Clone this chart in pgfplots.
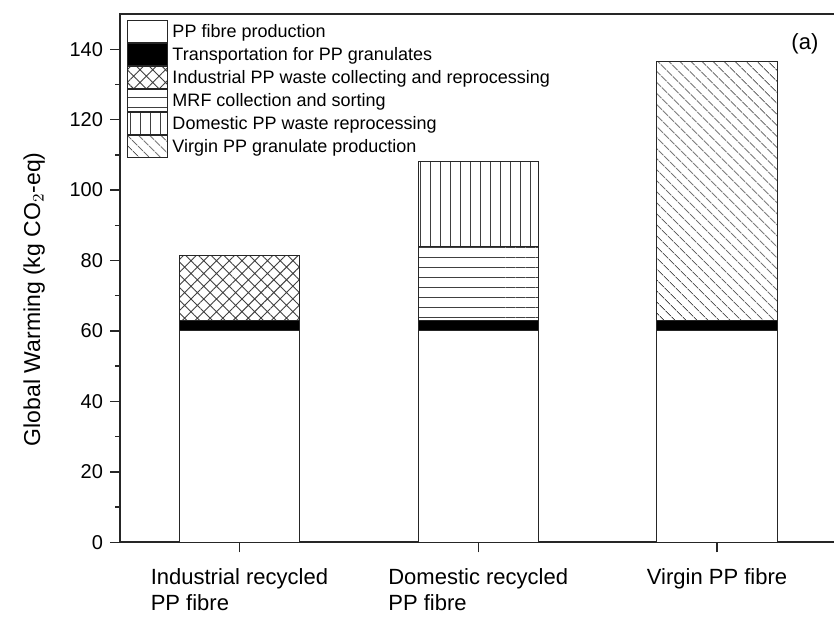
\documentclass[border=0pt]{standalone}
\usepackage{pgfplots}
\pgfplotsset{compat=1.18}
\usepackage{fontspec}
\setmainfont{Liberation Sans}
\usetikzlibrary{patterns.meta,calc}

\pgfplotsset{
  leg/.style={legend image code/.code={%
    \draw[##1,draw=black!85,line width=0.5pt] (0pt,-5.5pt) rectangle (20pt,5.5pt);}},
  barsty/.style={draw=black!85,line width=0.5pt,leg},
}

\begin{document}
\begin{tikzpicture}
\begin{axis}[
    scale only axis,
    width=358pt, height=264pt,
    ybar stacked,
    bar width=60pt,
    xmin=0.5, xmax=3.5,
    ymin=0, ymax=150,
    xtick={1,2,3},
    xticklabels={Industrial recycled\\PP fibre, Domestic recycled\\PP fibre, Virgin PP fibre},
    xticklabel style={align=left, font=\fontsize{11}{13.2}\selectfont, yshift=-4.5pt, anchor=north},
    ytick={0,20,...,140},
    minor y tick num=1,
    tick pos=left,
    tick align=outside,
    major tick length=5pt,
    minor tick length=2.5pt,
    tick style={black!85, line width=0.7pt},
    axis line style={black!85, line width=0.8pt},
    /pgf/number format/assume math mode=true,
    yticklabel style={font=\fontsize{10}{11}\selectfont},
    ylabel={Global Warming (kg CO$_2$-eq)},
    ylabel style={at={(axis description cs:-0.12,0.46)}, anchor=center, font=\fontsize{11.5}{12}\selectfont},
    legend style={at={(axis description cs:0.0098,0.989)}, anchor=north west,
        draw=none, fill=none, row sep=0pt, inner sep=0pt,
        font=\fontsize{9}{10}\selectfont,
        nodes={inner ysep=0pt, inner xsep=2pt, text height=8.5pt, text depth=2.5pt}},
    legend cell align=left,
]
\addplot[barsty, fill=white] coordinates {(1,60) (2,60) (3,60)};
\addplot[barsty, fill=black] coordinates {(1,3) (2,3) (3,3)};
\addplot[barsty, fill=white, pattern={Hatch[angle=45,distance=4.5pt,line width=0.45pt]}, pattern color=black!75] coordinates {(1,18.5) (2,0) (3,0)};
\addplot[barsty, fill=white, pattern={Lines[angle=0,distance=5pt,line width=0.45pt]}, pattern color=black!75] coordinates {(1,0) (2,21) (3,0)};
\addplot[barsty, fill=white, pattern={Lines[angle=90,distance=5pt,line width=0.45pt]}, pattern color=black!75] coordinates {(1,0) (2,24) (3,0)};
\addplot[barsty, fill=white, pattern={Lines[angle=-45,distance=4pt,line width=0.45pt]}, pattern color=black!75] coordinates {(1,0) (2,0) (3,73.5)};
\legend{PP fibre production, Transportation for PP granulates, Industrial PP waste collecting and reprocessing, MRF collection and sorting, Domestic PP waste reprocessing, Virgin PP granulate production}
\node[font=\fontsize{11}{12}\selectfont] at (axis description cs:0.956,0.943) {(a)};
\end{axis}
\pgfresetboundingbox
\path[use as bounding box] ($(current axis.south west)+(-60pt,-37.5pt)$) rectangle ($(current axis.north east)+(-1.2pt,7pt)$);
\end{tikzpicture}
\end{document}
